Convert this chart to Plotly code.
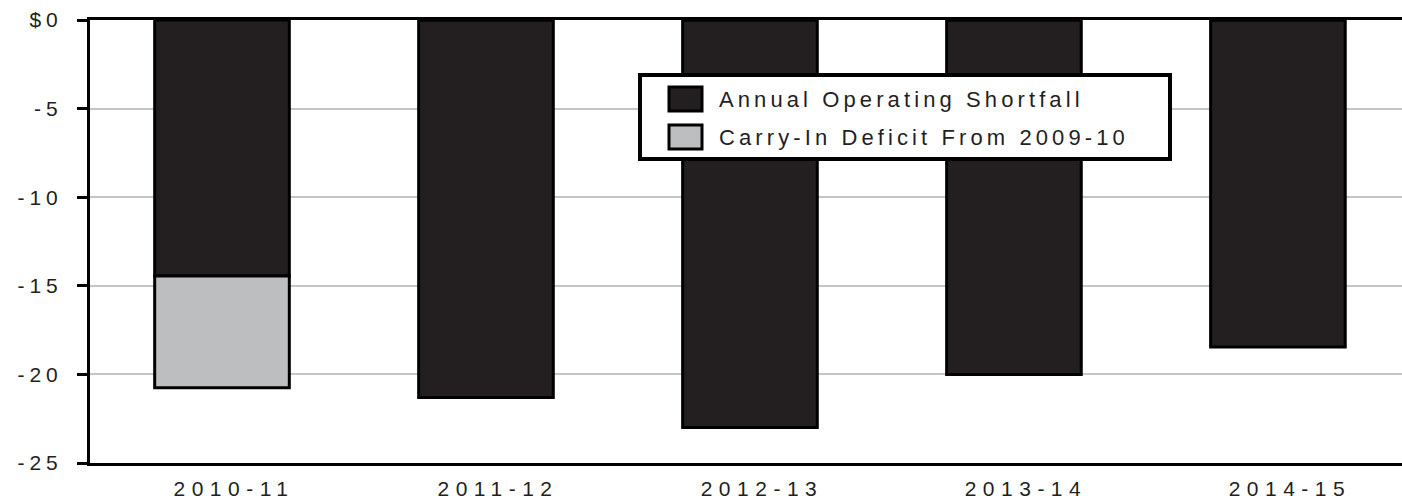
import plotly.graph_objects as go

# ---- data ----
categories = ["2010-11", "2011-12", "2012-13", "2013-14", "2014-15"]
annual_shortfall = [-14.45, -21.3, -23.0, -20.0, -18.45]
carry_in_deficit = [-6.3, 0, 0, 0, 0]
y_tick_values = [0, -5, -10, -15, -20, -25]
y_tick_labels = ["$0", "-5", "-10", "-15", "-20", "-25"]
series_names = ["Annual Operating Shortfall", "Carry-In Deficit From 2009-10"]

# ---- styles ----
DARK = "#231f20"
GREY = "#bcbec0"
FONT = "Liberation Sans, Arial, Helvetica, sans-serif"
W, H = 1402, 502
ML, MR, MT, MB = 90, 0, 20, 39


def spaced(s, px):
    return f'<span style="letter-spacing:{px}px">{s}</span>'


fig = go.Figure()
fig.add_trace(go.Bar(
    x=categories, y=annual_shortfall, name=series_names[0],
    marker=dict(color=DARK, line=dict(color="black", width=3)),
    showlegend=False,
))
fig.add_trace(go.Bar(
    x=categories, y=carry_in_deficit, name=series_names[1],
    marker=dict(color=GREY, line=dict(color="black", width=3)),
    showlegend=False,
))

# ---- custom legend (pixel helpers -> paper coords) ----
pw, ph = W - ML - MR, H - MT - MB


def px_x(x):
    return (x - ML) / pw


def px_y(y):
    return (H - MB - y) / ph


shapes = [
    dict(type="rect", xref="paper", yref="paper",
         x0=px_x(640), x1=px_x(1170), y0=px_y(159), y1=px_y(75),
         fillcolor="white", line=dict(color="black", width=4), layer="above"),
    dict(type="rect", xref="paper", yref="paper",
         x0=px_x(669), x1=px_x(702), y0=px_y(111), y1=px_y(87),
         fillcolor=DARK, line=dict(color="black", width=3), layer="above"),
    dict(type="rect", xref="paper", yref="paper",
         x0=px_x(669), x1=px_x(702), y0=px_y(149), y1=px_y(125),
         fillcolor=GREY, line=dict(color="black", width=3), layer="above"),
]
annotations = [
    dict(xref="paper", yref="paper", x=px_x(717), y=px_y(99),
         text=spaced(series_names[0], 4.1), showarrow=False,
         xanchor="left", yanchor="middle",
         font=dict(family=FONT, size=22, color=DARK)),
    dict(xref="paper", yref="paper", x=px_x(717), y=px_y(137),
         text=spaced(series_names[1], 4.1), showarrow=False,
         xanchor="left", yanchor="middle",
         font=dict(family=FONT, size=22, color=DARK)),
]

fig.update_layout(
    width=W, height=H,
    margin=dict(l=ML, r=MR, t=MT, b=MB, pad=0),
    barmode="relative",
    bargap=0.49,
    plot_bgcolor="white", paper_bgcolor="white",
    font=dict(family=FONT, size=20, color=DARK),
    shapes=shapes,
    annotations=annotations,
    xaxis=dict(
        type="category",
        range=[-0.5, 4.47],
        tickvals=categories,
        ticktext=[spaced(c, 6.5) for c in categories],
        showline=True, mirror=True, linecolor="black", linewidth=3,
        ticks="", showgrid=False, zeroline=False,
        tickfont=dict(family=FONT, size=21, color=DARK),
        ticklabelstandoff=5,
        ticklabelshift=12,
    ),
    yaxis=dict(
        range=[-25, 0],
        tickvals=y_tick_values,
        ticktext=[spaced(t, 5) for t in y_tick_labels],
        showline=True, linecolor="black", linewidth=3,
        ticks="outside", ticklen=10, tickwidth=3, tickcolor="black",
        showgrid=True, gridcolor="#c4c4c4", gridwidth=2,
        zeroline=False,
        tickfont=dict(family=FONT, size=21, color=DARK),
        ticklabelstandoff=10,
    ),
)

fig.write_html("out.html")
